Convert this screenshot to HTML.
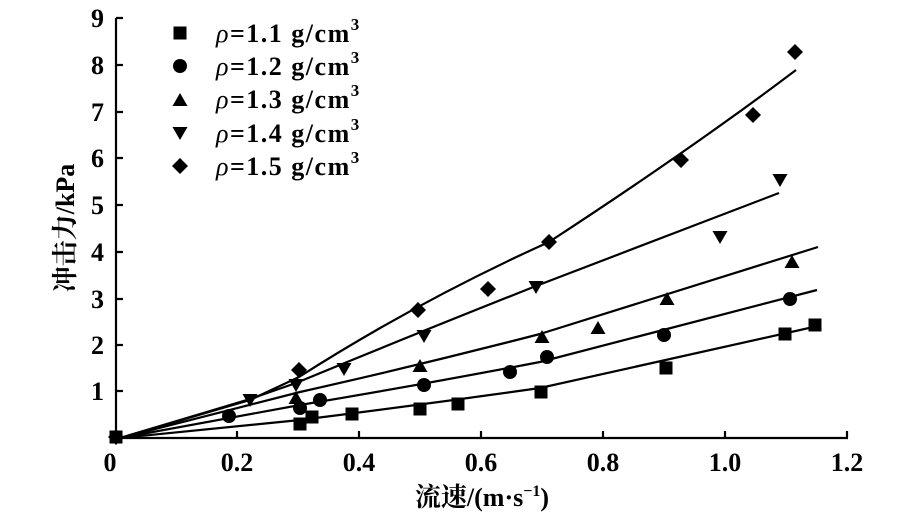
<!DOCTYPE html>
<html><head><meta charset="utf-8"><style>
html,body{margin:0;padding:0;background:#fff;}
svg{display:block;}
text{font-family:"Liberation Serif","Noto Serif CJK SC",serif;font-weight:bold;fill:#000;}
</style></head><body>
<svg width="901" height="526" viewBox="0 0 901 526" xmlns="http://www.w3.org/2000/svg">
<defs>
<rect id="sq" x="-6.5" y="-6.5" width="13" height="13"/>
<circle id="ci" r="7"/>
<path id="tu" d="M0,-7 L7.5,6 L-7.5,6Z"/>
<path id="td" d="M0,7 L7.5,-6 L-7.5,-6Z"/>
<path id="di" d="M0,-8 L8,0 L0,8 L-8,0Z"/>
</defs>
<g stroke="#000" stroke-width="2.2" fill="none">
<path d="M116,18 V438 H848"/>
<path d="M116,18h7M116,65h7M116,112h7M116,158h7M116,205h7M116,252h7M116,299h7M116,345h7M116,391h7"/>
<path d="M237,438v-7M359,438v-7M481,438v-7M603,438v-7M725,438v-7M847,438v-7"/>
</g>
<g stroke="#000" stroke-width="2.2" fill="none">
<path d="M120,438 L300,420 Q420,405 540,388 L818,326"/>
<path d="M120,438 L300,405 Q420,385 540,362 L817,290"/>
<path d="M120,438 L300,392 Q420,365 540,334 L818,247"/>
<path d="M120,438 L250,399 L296,383 Q400,340 536,286 L779,193"/>
<path d="M120,438 L250,400 L299,377 Q420,300 549,242 Q690,150 796,70"/>
</g>
<g fill="#000">
<use href="#sq" x="116" y="437"/><use href="#sq" x="300" y="424"/><use href="#sq" x="312" y="417"/><use href="#sq" x="352" y="414"/><use href="#sq" x="420" y="409"/><use href="#sq" x="458" y="404"/><use href="#sq" x="541" y="392"/><use href="#sq" x="666" y="368"/><use href="#sq" x="785" y="334"/><use href="#sq" x="815" y="325"/>
<use href="#ci" x="229" y="416"/><use href="#ci" x="300" y="408"/><use href="#ci" x="320" y="400"/><use href="#ci" x="424" y="385"/><use href="#ci" x="510" y="372"/><use href="#ci" x="547" y="357"/><use href="#ci" x="664" y="335"/><use href="#ci" x="790" y="299"/>
<use href="#tu" x="296" y="398"/><use href="#tu" x="420" y="366"/><use href="#tu" x="542" y="337"/><use href="#tu" x="598" y="328"/><use href="#tu" x="667" y="299"/><use href="#tu" x="792" y="262"/>
<use href="#td" x="250" y="400"/><use href="#td" x="296" y="385"/><use href="#td" x="344" y="369"/><use href="#td" x="424" y="336"/><use href="#td" x="536" y="287"/><use href="#td" x="720" y="237"/><use href="#td" x="780" y="180"/>
<use href="#di" x="116" y="437"/><use href="#di" x="299" y="370"/><use href="#di" x="418" y="310"/><use href="#di" x="488" y="289"/><use href="#di" x="549" y="242"/><use href="#di" x="681" y="160"/><use href="#di" x="753" y="115"/><use href="#di" x="795" y="52"/>
</g>
<g font-size="26" text-anchor="end">
<text x="104" y="27">9</text><text x="104" y="74">8</text><text x="104" y="121">7</text><text x="104" y="167">6</text><text x="104" y="214">5</text><text x="104" y="261">4</text><text x="104" y="308">3</text><text x="104" y="354">2</text><text x="104" y="400">1</text>
</g>
<g font-size="26" text-anchor="middle">
<text x="110" y="471">0</text><text x="237" y="471">0.2</text><text x="359" y="471">0.4</text><text x="481" y="471">0.6</text><text x="603" y="471">0.8</text><text x="725" y="471">1.0</text><text x="847" y="471">1.2</text>
</g>
<text x="482" y="506" font-size="26" text-anchor="middle">流速/(m·s<tspan font-size="16" dy="-10">−1</tspan><tspan dy="10">)</tspan></text>
<text transform="translate(74,228) rotate(-90)" font-size="26" text-anchor="middle">冲击力/kPa</text>
<g fill="#000">
<use href="#sq" x="180" y="33"/>
<use href="#ci" x="180" y="66"/>
<use href="#tu" x="180" y="100"/>
<use href="#td" x="180" y="133"/>
<use href="#di" x="180" y="166"/>
</g>
<g font-size="26" letter-spacing="1.5">
<text x="216" y="42"><tspan font-style="italic" font-weight="normal">ρ</tspan>=1.1 g/cm<tspan font-size="17" dy="-12">3</tspan></text>
<text x="216" y="75"><tspan font-style="italic" font-weight="normal">ρ</tspan>=1.2 g/cm<tspan font-size="17" dy="-12">3</tspan></text>
<text x="216" y="108"><tspan font-style="italic" font-weight="normal">ρ</tspan>=1.3 g/cm<tspan font-size="17" dy="-12">3</tspan></text>
<text x="216" y="142"><tspan font-style="italic" font-weight="normal">ρ</tspan>=1.4 g/cm<tspan font-size="17" dy="-12">3</tspan></text>
<text x="216" y="175"><tspan font-style="italic" font-weight="normal">ρ</tspan>=1.5 g/cm<tspan font-size="17" dy="-12">3</tspan></text>
</g>
</svg>
</body></html>
